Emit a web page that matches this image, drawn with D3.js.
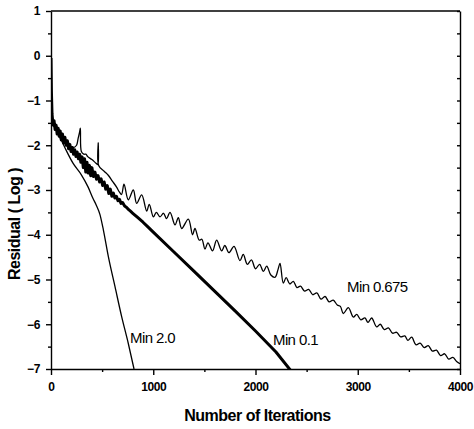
<!DOCTYPE html>
<html>
<head>
<meta charset="utf-8">
<script src="https://cdn.jsdelivr.net/npm/d3@7"></script>
<style>
    body { margin: 0; background: #fff; }
    svg { display: block; font-family: "Liberation Sans", Arial, sans-serif; }
    .axis path, .axis line { stroke: #000; stroke-width: 1.4; }
    .axis text { font-size: 12px; font-weight: bold; fill: #000; letter-spacing: -0.4px; }
    .curve { fill: none; stroke: #000; stroke-linejoin: round; }
    .label { font-size: 15px; fill: #000; letter-spacing: -0.6px; }
    .title { font-size: 16px; font-weight: bold; fill: #000; letter-spacing: -0.5px; }
</style>
</head>
<body>
<script>
'use strict';

const width = 474, height = 429;
const margin = {top: 11, right: 14, bottom: 60, left: 51};

const x_ticks = [0, 1000, 2000, 3000, 4000];
const y_ticks = [1, 0, -1, -2, -3, -4, -5, -6, -7];
const series_names = ['Min 2.0', 'Min 0.1', 'Min 0.675'];

// [iterations, log residual]
const min_2_0 = [
    [0, -0.05], [4, -0.8], [10, -1.3], [20, -1.5], [50, -1.66], [100, -1.88], [150, -2.12],
    [215, -2.4], [297, -2.66], [362, -2.93], [411, -3.19], [443, -3.34], [479, -3.55],
    [512, -3.89], [561, -4.49], [626, -5.16], [691, -5.83], [756, -6.43], [812, -7.0]
];

const min_0_1 = [
    [0, -0.05], [4, -0.8], [10, -1.3], [20, -1.55], [30, -1.45], [40, -1.65], [50, -1.55],
    [60, -1.75], [70, -1.62], [80, -1.8], [90, -1.68], [100, -1.88], [112, -1.75], [124, -1.95],
    [136, -1.82], [148, -2.0], [160, -1.9], [172, -2.08], [184, -1.98], [196, -2.14], [208, -2.05],
    [220, -2.2], [232, -2.1], [244, -2.25], [256, -2.15], [268, -2.3], [280, -2.2], [292, -2.38],
    [304, -2.26], [316, -2.5], [328, -2.3], [340, -2.6], [352, -2.38], [364, -2.62], [376, -2.45],
    [388, -2.68], [400, -2.5], [415, -2.7], [430, -2.6], [445, -2.76], [460, -2.68], [475, -2.82],
    [490, -2.75], [505, -2.9], [520, -2.82], [535, -2.98], [550, -2.9], [565, -3.08], [580, -2.98],
    [595, -3.14], [610, -3.07], [625, -3.18], [640, -3.14], [655, -3.24], [670, -3.21], [685, -3.3],
    [700, -3.28], [720, -3.36], [740, -3.39], [760, -3.44], [780, -3.48], [800, -3.52],
    [850, -3.62], [900, -3.72], [950, -3.83], [1000, -3.94], [1200, -4.38], [1400, -4.82],
    [1600, -5.26], [1800, -5.7], [2000, -6.15], [2200, -6.62], [2340, -7.02]
];

const min_0_675 = [
    [0, -0.05], [4, -0.8], [10, -1.3], [20, -1.5], [40, -1.62], [70, -1.72], [100, -1.8],
    [140, -1.9], [180, -2.0], [220, -2.05], [250, -2.0], [265, -1.85], [280, -1.7], [287, -1.62],
    [297, -2.14], [320, -2.2], [340, -2.2], [362, -2.26], [400, -2.32], [440, -2.4], [458, -2.43],
    [462, -1.95], [466, -2.45], [520, -2.58], [560, -2.67], [600, -2.8], [640, -2.93], [670, -3.05],
    [690, -3.1], [714, -2.87], [756, -3.22], [805, -3.0], [838, -3.3], [887, -3.11], [936, -3.47],
    [961, -3.32], [1001, -3.6], [1030, -3.5], [1066, -3.6], [1100, -3.52], [1130, -3.64],
    [1164, -3.5], [1213, -3.78], [1245, -3.62], [1278, -3.86], [1343, -3.65], [1385, -4.0],
    [1408, -3.86], [1450, -4.12], [1475, -4.1], [1506, -4.32], [1535, -4.18], [1580, -4.36],
    [1620, -4.12], [1669, -4.36], [1700, -4.24], [1740, -4.4], [1790, -4.26], [1848, -4.58],
    [1880, -4.44], [1920, -4.66], [1960, -4.56], [2000, -4.76], [2040, -4.66], [2077, -4.82],
    [2110, -4.7], [2150, -4.9], [2191, -4.95], [2220, -4.78], [2240, -4.64], [2272, -5.08],
    [2300, -4.96], [2335, -5.1], [2370, -5.04], [2405, -5.18], [2440, -5.15], [2480, -5.26],
    [2520, -5.22], [2560, -5.34], [2600, -5.3], [2640, -5.44], [2680, -5.38], [2720, -5.5],
    [2760, -5.46], [2800, -5.57], [2830, -5.6], [2859, -5.76], [2908, -5.63], [2957, -5.84],
    [2990, -5.78], [3030, -5.9], [3070, -5.86], [3100, -5.96], [3136, -5.86], [3185, -6.06],
    [3220, -6.0], [3260, -6.12], [3300, -6.08], [3340, -6.2], [3380, -6.18], [3420, -6.28],
    [3460, -6.26], [3490, -6.36], [3527, -6.29], [3570, -6.46], [3610, -6.42], [3650, -6.52],
    [3690, -6.48], [3730, -6.6], [3770, -6.58], [3810, -6.7], [3850, -6.66], [3890, -6.78],
    [3930, -6.74], [3970, -6.84], [4000, -6.88]
];

const plot_width = width - margin.left - margin.right;
const plot_height = height - margin.top - margin.bottom;

const x = d3.scaleLinear().domain([0, 4000]).range([0, plot_width]);
const y = d3.scaleLinear().domain([-7, 1]).range([plot_height, 0]);

const svg = d3.select('body').append('svg')
    .attr('width', width)
    .attr('height', height);

const content = svg.append('g')
    .attr('transform', `translate(${margin.left},${margin.top})`);

content.append('clipPath').attr('id', 'clip')
    .append('rect').attr('width', plot_width).attr('height', plot_height + 1);

// minor ticks first, so major ones sit on top
content.append('g')
    .attr('class', 'axis')
    .attr('transform', `translate(0,${plot_height})`)
    .call(d3.axisBottom(x).tickValues(d3.range(500, 4000, 1000)).tickSize(3).tickFormat(''))
    .call(g => g.select('.domain').remove());
content.append('g')
    .attr('class', 'axis')
    .call(d3.axisLeft(y).tickValues(d3.range(-6.5, 1, 1)).tickSize(3).tickFormat(''))
    .call(g => g.select('.domain').remove());

content.append('g')
    .attr('class', 'axis')
    .attr('transform', `translate(0,${plot_height})`)
    .call(d3.axisBottom(x).tickValues(x_ticks).tickFormat(d3.format('d'))
        .tickSize(6).tickSizeOuter(0).tickPadding(7));
content.append('g')
    .attr('class', 'axis')
    .call(d3.axisLeft(y).tickValues(y_ticks).tickSize(5).tickSizeOuter(0).tickPadding(6));

content.append('g')
    .attr('class', 'axis')
    .attr('transform', `translate(${plot_width},0)`)
    .call(d3.axisLeft(y).tickValues(d3.range(-7, 1.01, 0.5)).tickSize(3).tickSizeOuter(0).tickFormat(''));
content.append('line')
    .attr('x1', 0).attr('x2', plot_width)
    .attr('y1', 0).attr('y2', 0)
    .attr('stroke', '#000').attr('stroke-width', 1.4);

const line = d3.line().x(d => x(d[0])).y(d => y(d[1]));
const smooth_line = d3.line().x(d => x(d[0])).y(d => y(d[1])).curve(d3.curveMonotoneX);
const wave_line = d3.line().x(d => x(d[0])).y(d => y(d[1])).curve(d3.curveCatmullRom.alpha(0.5));

const curves = content.append('g').attr('clip-path', 'url(#clip)');
curves.append('path').datum(min_2_0)
    .attr('class', 'curve').attr('stroke-width', 1.3).attr('d', smooth_line);
curves.append('path').datum(min_0_675)
    .attr('class', 'curve').attr('stroke-width', 1.3).attr('d', wave_line);
curves.append('path').datum(min_0_1)
    .attr('class', 'curve').attr('stroke-width', 3).attr('d', line);

const label_spots = [[773, -6.43], [2171, -6.47], [2895, -5.29]];
content.selectAll('.label')
    .data(series_names)
    .enter().append('text')
    .attr('class', 'label')
    .attr('x', (d, i) => x(label_spots[i][0]))
    .attr('y', (d, i) => y(label_spots[i][1]))
    .text(d => d);

svg.append('text')
    .attr('class', 'title')
    .attr('text-anchor', 'middle')
    .attr('x', margin.left + plot_width / 2 + 2)
    .attr('y', 421)
    .text('Number of Iterations');

svg.append('text')
    .attr('class', 'title')
    .attr('text-anchor', 'middle')
    .attr('transform', `translate(19.5,224) rotate(-90)`)
    .text('Residual ( Log )');
</script>
</body>
</html>
